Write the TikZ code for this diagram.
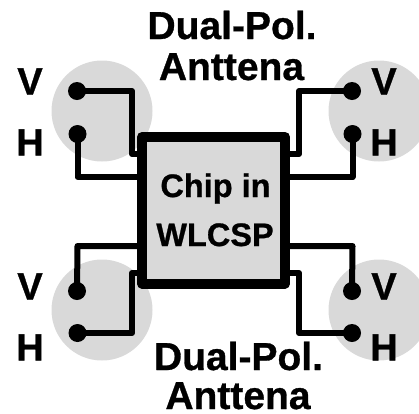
\documentclass[tikz,border=0pt]{standalone}
\usepackage{fontspec}
\setmainfont[BoldFeatures={FakeBold=0.8}]{Liberation Sans}
\definecolor{padgray}{HTML}{D9D9D9}
\tikzset{
  patch/.style={circle,fill=padgray,draw=none,minimum size=101pt,inner sep=0pt},
  feed/.style={circle,fill=black,draw=none,minimum size=18pt,inner sep=0pt},
  wire/.style={draw=black,line width=6pt,line join=round,line cap=round},
  chipbox/.style={rectangle,draw=black,fill=padgray,line width=10pt,line join=round,minimum width=143pt,minimum height=146.5pt,inner sep=0pt},
  pol/.style={font=\fontsize{38}{38}\bfseries\selectfont,anchor=base,inner sep=0pt},
  title/.style={font=\fontsize{39}{39}\bfseries\selectfont,anchor=base,inner sep=0pt},
  chiptext/.style={font=\fontsize{32.5}{32.5}\bfseries\selectfont,anchor=base,inner sep=0pt}
}
\begin{document}
\begin{tikzpicture}[x=1pt,y=-1pt]
\useasboundingbox (0,0) rectangle (419,413);
\clip (0,0) rectangle (419,413);
\node[patch] (ptl) at (102,111) {};
\node[patch] (ptr) at (379,111) {};
\node[patch] (pbl) at (102,310) {};
\node[patch] (pbr) at (379,310) {};
\node[chipbox] (chip) at (213.5,210.25) {};
\coordinate (tlv) at (132,154);
\coordinate (tlh) at (77.5,177);
\coordinate (trv) at (299,154);
\coordinate (trh) at (352.5,177);
\coordinate (blv) at (77.5,246);
\coordinate (blh) at (132,273);
\coordinate (brv) at (352.5,246);
\coordinate (brh) at (299,273);
\node[feed] (dtlv) at (77,91) {};
\node[feed] (dtlh) at (77.5,134) {};
\node[feed] (dtrv) at (352,91) {};
\node[feed] (dtrh) at (352.5,134) {};
\node[feed] (dblv) at (77,291) {};
\node[feed] (dblh) at (77.5,333) {};
\node[feed] (dbrv) at (352,291) {};
\node[feed] (dbrh) at (352,333) {};
\draw[wire] (dtlv.center) -| (tlv) -- (tlv -| chip.west);
\draw[wire] (dtlh.center) -- (tlh) -- (tlh -| chip.west);
\draw[wire] (dtrv.center) -| (trv) -- (trv -| chip.east);
\draw[wire] (dtrh.center) -- (trh) -- (trh -| chip.east);
\draw[wire] (dblv.center) -- (blv) -- (blv -| chip.west);
\draw[wire] (dblh.center) -| (blh) -- (blh -| chip.west);
\draw[wire] (dbrv.center) -- (brv) -- (brv -| chip.east);
\draw[wire] (dbrh.center) -| (brh) -- (brh -| chip.east);
\node[pol] (ltlv) at (30,94.5) {V};
\node[pol] (ltlh) at (30,155.5) {H};
\node[pol] (ltrv) at (384,94.5) {V};
\node[pol] (ltrh) at (384,155.5) {H};
\node[pol] (lblv) at (30,299.5) {V};
\node[pol] (lblh) at (30,360.5) {H};
\node[pol] (lbrv) at (384,299.5) {V};
\node[pol] (lbrh) at (384,360.5) {H};
\node[title] (t1) at (232,39) {Dual-Pol.};
\node[title] (t2) at (231.5,80) {Anttena};
\node[title] (b1) at (238.5,370) {Dual-Pol.};
\node[title] (b2) at (238,409) {Anttena};
\node[chiptext] (c1) at (215.5,197) {Chip in};
\node[chiptext] (c2) at (215,246) {WLCSP};
\end{tikzpicture}
\end{document}
